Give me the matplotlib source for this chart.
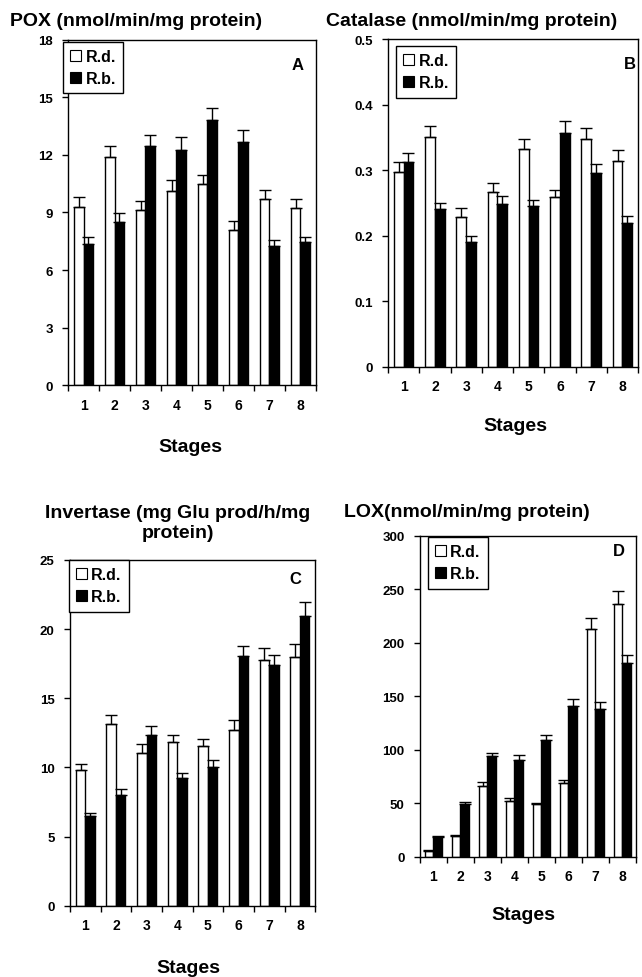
#!/usr/bin/env python3
"""
Enzyme activities of R.d. and R.b. across 8 stages (panels A-D)
"""

import numpy as np
import matplotlib
matplotlib.use("Agg")
import matplotlib.pyplot as plt
from matplotlib.patches import Patch

plt.rcParams['font.family'] = ['Liberation Sans', 'DejaVu Sans']
plt.rcParams['font.weight'] = 'bold'

stages = [1, 2, 3, 4, 5, 6, 7, 8]
series_names = ["R.d.", "R.b."]

# A: POX
pox_rd = [9.3, 11.9, 9.15, 10.1, 10.5, 8.1, 9.72, 9.22]
pox_rd_err = [0.5, 0.58, 0.47, 0.57, 0.45, 0.46, 0.45, 0.48]
pox_rb = [7.34, 8.49, 12.48, 12.27, 13.8, 12.66, 7.27, 7.44]
pox_rb_err = [0.38, 0.47, 0.56, 0.68, 0.66, 0.66, 0.27, 0.27]
pox_yticks = [0, 3, 6, 9, 12, 15, 18]

# B: Catalase
cat_rd = [0.297, 0.351, 0.228, 0.266, 0.333, 0.259, 0.347, 0.314]
cat_rd_err = [0.015, 0.016, 0.014, 0.014, 0.015, 0.010, 0.017, 0.016]
cat_rb = [0.312, 0.240, 0.190, 0.248, 0.245, 0.356, 0.295, 0.220]
cat_rb_err = [0.014, 0.010, 0.010, 0.013, 0.010, 0.019, 0.014, 0.010]
cat_yticks = [0, 0.1, 0.2, 0.3, 0.4, 0.5]
cat_yticklabels = ["0", "0.1", "0.2", "0.3", "0.4", "0.5"]

# C: Invertase
inv_rd = [9.83, 13.14, 11.02, 11.81, 11.52, 12.73, 17.77, 17.96]
inv_rd_err = [0.42, 0.67, 0.67, 0.53, 0.56, 0.67, 0.86, 0.96]
inv_rb = [6.46, 8.03, 12.34, 9.23, 10.0, 18.03, 17.4, 20.93]
inv_rb_err = [0.24, 0.41, 0.66, 0.37, 0.51, 0.77, 0.75, 1.01]
inv_yticks = [0, 5, 10, 15, 20, 25]

# D: LOX
lox_rd = [5, 19.6, 66.4, 51.8, 49.3, 68.9, 212.8, 236.3]
lox_rd_err = [1, 1, 3.1, 2.8, 1, 2.8, 10.3, 12.5]
lox_rb = [18, 49.3, 93.8, 90.6, 109, 141, 138, 180.7]
lox_rb_err = [1, 1.5, 3.1, 4.4, 5, 6.4, 6.9, 8.1]
lox_yticks = [0, 50, 100, 150, 200, 250, 300]


def draw_panel(ax, rd, rd_err, rb, rb_err, yticks, yticklabels, letter,
               legend_anchor):
    x = np.array(stages)
    w = 0.31
    ax.bar(x - w / 2, rd, w, color='white', edgecolor='black', linewidth=1.0, zorder=2)
    ax.bar(x + w / 2, rb, w, color='black', edgecolor='black', linewidth=1.0, zorder=2)
    ax.errorbar(x - w / 2, rd, yerr=[np.zeros(len(rd)), rd_err], fmt='none',
                ecolor='black', elinewidth=1.0, capsize=4.3, capthick=1.0, zorder=3)
    ax.errorbar(x + w / 2, rb, yerr=[np.zeros(len(rb)), rb_err], fmt='none',
                ecolor='black', elinewidth=1.0, capsize=4.3, capthick=1.0, zorder=3)

    ax.set_xlim(0.5, 8.5)
    ax.set_ylim(yticks[0], yticks[-1])
    ax.set_xticks(x)
    ax.set_xticklabels([str(s) for s in stages], fontsize=10, fontweight='bold')
    ax.set_xticks(np.arange(0.5, 9.0, 1.0), minor=True)
    ax.tick_params(axis='x', which='major', length=0, pad=9)
    ax.tick_params(axis='x', which='minor', length=4, width=1, direction='out')
    ax.set_yticks(yticks)
    ax.set_yticklabels(yticklabels, fontsize=9.5, fontweight='bold')
    ax.tick_params(axis='y', length=4, width=1, direction='out', pad=7)
    for sp in ax.spines.values():
        sp.set_linewidth(1.0)
        sp.set_color('black')

    ax.text(letter[1], letter[2], letter[0], transform=ax.transAxes,
            fontsize=12, fontweight='bold', ha='center', va='center')

    handles = [Patch(facecolor='white', edgecolor='black', linewidth=0.8),
               Patch(facecolor='black', edgecolor='black', linewidth=0.8)]
    leg = ax.legend(handles, series_names, loc='upper left',
                    bbox_to_anchor=legend_anchor, borderaxespad=0,
                    fancybox=False, framealpha=1, edgecolor='black',
                    handlelength=0.7, handleheight=0.7, handletextpad=0.25,
                    labelspacing=0.45, borderpad=0.45,
                    prop={'size': 11.5, 'weight': 'bold'})
    leg.get_frame().set_linewidth(1.0)


fig = plt.figure(figsize=(6.42, 9.78), dpi=100)

axA = fig.add_axes([0.106, 0.6053, 0.386, 0.3528])
draw_panel(axA, pox_rd, pox_rd_err, pox_rb, pox_rb_err, pox_yticks,
           [str(v) for v in pox_yticks], ("A", 0.927, 0.930), (-0.02, 0.995))

axB = fig.add_axes([0.6044, 0.624, 0.3894, 0.335])
draw_panel(axB, cat_rd, cat_rd_err, cat_rb, cat_rb_err, cat_yticks,
           cat_yticklabels, ("B", 0.968, 0.924), (0.032, 0.979))

axC = fig.add_axes([0.109, 0.0729, 0.382, 0.3535])
draw_panel(axC, inv_rd, inv_rd_err, inv_rb, inv_rb_err, inv_yticks,
           [str(v) for v in inv_yticks], ("C", 0.917, 0.945), (-0.004, 1.0))

axD = fig.add_axes([0.654, 0.123, 0.3364, 0.3282])
draw_panel(axD, lox_rd, lox_rd_err, lox_rb, lox_rb_err, lox_yticks,
           [str(v) for v in lox_yticks], ("D", 0.921, 0.953), (0.037, 0.996))

# panel titles
fig.text(0.0156, 0.978, "POX (nmol/min/mg protein)", fontsize=14,
         fontweight='bold', ha='left', va='center')
fig.text(0.508, 0.978, "Catalase (nmol/min/mg protein)", fontsize=14,
         fontweight='bold', ha='left', va='center')
fig.text(0.277, 0.465, "Invertase (mg Glu prod/h/mg\nprotein)", fontsize=14,
         fontweight='bold', ha='center', va='center', multialignment='center',
         linespacing=1.25)
fig.text(0.536, 0.4755, "LOX(nmol/min/mg protein)", fontsize=14,
         fontweight='bold', ha='left', va='center')

# x labels
for (xx, yy) in [(0.296, 0.542), (0.802, 0.5634), (0.293, 0.0102), (0.815, 0.0634)]:
    fig.text(xx, yy, "Stages", fontsize=14, fontweight='bold',
             ha='center', va='center')

fig.savefig('out.png', dpi=100)
